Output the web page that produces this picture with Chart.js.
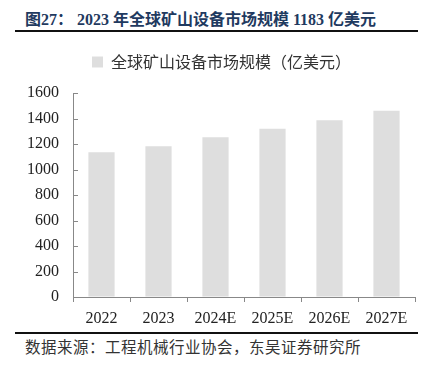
<!DOCTYPE html>
<html>
<head>
<meta charset="utf-8">
<script src="https://cdn.jsdelivr.net/npm/chart.js@4.4.1/dist/chart.umd.min.js"></script>
<style>
  html, body { margin: 0; padding: 0; background: #fff; }
  #wrap { position: relative; width: 427px; height: 372px; overflow: hidden; }
  #title {
    position: absolute; left: 25px; top: 6px; white-space: nowrap; line-height: 18px;
    font: bold 16px "Liberation Serif", "Noto Sans CJK SC", serif;
    color: #1f3a60;
  }
  .rule { position: absolute; left: 15px; width: 403px; height: 2px; background: #111; }
  #source {
    position: absolute; left: 25px; top: 335px; white-space: nowrap; line-height: 16px;
    font: 15.5px "Noto Sans CJK SC", sans-serif; color: #333; letter-spacing: 0.5px;
  }
  #box { position: absolute; left: 0; top: 38px; width: 427px; height: 292px; }
</style>
</head>
<body>
<div id="wrap">
  <div id="title">图27：&nbsp;2023 年全球矿山设备市场规模 1183 亿美元</div>
  <div class="rule" style="top:30px"></div>
  <div id="box"><canvas id="chart"></canvas></div>
  <div class="rule" style="top:332px"></div>
  <div id="source">数据来源：工程机械行业协会，东吴证券研究所</div>
</div>
<script>
const years = ["2022", "2023", "2024E", "2025E", "2026E", "2027E"];
const marketSize = [1136, 1183, 1252, 1320, 1387, 1460];
const seriesName = "全球矿山设备市场规模（亿美元）";
const yTicks = [0, 200, 400, 600, 800, 1000, 1200, 1400, 1600];

// y-axis ticks point inwards in the original
const innerTicks = {
  id: "innerTicks",
  beforeUpdate(chart) {
    // leave more room under the legend
    const lg = chart.legend;
    if (lg && !lg._extra) {
      const fit = lg.fit;
      lg.fit = function () { fit.call(this); this.height += 13; };
      lg._extra = true;
    }
  },
  afterLayout(chart) {
    // legend sits a bit right of centre in the original
    if (chart.legend) chart.legend.left += 28;
  },
  afterDraw(chart) {
    const y = chart.scales.y;
    const ctx = chart.ctx;
    ctx.save();
    ctx.strokeStyle = "#888";
    ctx.lineWidth = 1;
    yTicks.forEach(v => {
      const py = Math.round(y.getPixelForValue(v)) + 0.5;
      ctx.beginPath();
      ctx.moveTo(y.right, py);
      ctx.lineTo(y.right + 5, py);
      ctx.stroke();
    });
    ctx.restore();
  }
};

const ctx = document.getElementById("chart").getContext("2d");
new Chart(ctx, {
  type: "bar",
  data: {
    labels: years,
    datasets: [{
      label: seriesName,
      data: marketSize,
      backgroundColor: "#dedede",
      barPercentage: 0.46,
      categoryPercentage: 1
    }]
  },
  options: {
    responsive: true,
    maintainAspectRatio: false,
    animation: false,
    layout: { padding: { left: 0, right: 12, top: 6, bottom: 0 } },
    plugins: {
      tooltip: { enabled: false },
      legend: {
        labels: {
          color: "#333",
          font: { family: "'Noto Sans CJK SC'", size: 16 },
          boxWidth: 11,
          boxHeight: 11,
          padding: 10
        }
      }
    },
    scales: {
      x: {
        afterFit(scale) { scale.height = 33; },
        grid: { display: true, drawOnChartArea: false, drawTicks: true, tickLength: 5, color: "#888", offset: true },
        border: { color: "#888" },
        ticks: {
          color: "#222",
          padding: 7,
          font: { family: "'Liberation Serif'", size: 16 }
        }
      },
      y: {
        min: 0,
        max: 1600,
        afterFit(scale) { scale.width = 73; },
        afterBuildTicks(scale) { scale.ticks = yTicks.map(v => ({ value: v })); },
        grid: { display: true, drawOnChartArea: false, drawTicks: false },
        border: { color: "#888" },
        ticks: {
          color: "#222",
          padding: 14,
          font: { family: "'Liberation Serif'", size: 16 },
          callback: v => String(v)
        }
      }
    }
  },
  plugins: [innerTicks]
});
</script>
</body>
</html>
